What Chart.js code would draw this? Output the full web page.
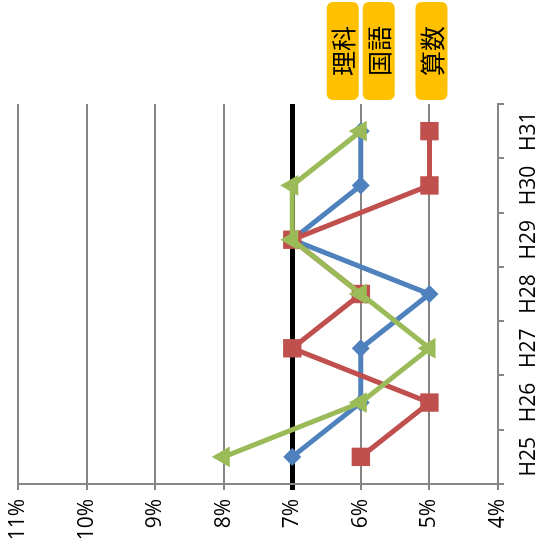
<!DOCTYPE html>
<html>
<head>
<meta charset="utf-8">
<script src="https://cdn.jsdelivr.net/npm/chart.js@4.4.1/dist/chart.umd.min.js"></script>
<style>
  body { margin: 0; background: #fff; }
  #wrap { position: relative; width: 541px; height: 558px; overflow: hidden; }
  #myChart { position: absolute; left: 0; top: 0; transform-origin: 0 0; transform: translate(0, 558px) rotate(-90deg); }
</style>
</head>
<body>
<div id="wrap"><canvas id="myChart" width="558" height="541"></canvas></div>
<script>
// the chart is drawn upright and the canvas is turned a quarter turn
const years = ['H25', 'H26', 'H27', 'H28', 'H29', 'H30', 'H31'];
const kokugo = [7.0, 6.0, 6.0, 5.0, 7.0, 6.0, 6.0];
const sansu = [6.0, 5.0, 7.0, 6.0, 7.0, 5.0, 5.0];
const rika = [8.0, 6.0, 5.0, 6.0, 7.0, 7.0, 6.0];
const refLine = 7;

const gridGray = '#868686';
// shift of each name tag from its last point (px)
const tagShift = [18, 2, -18];

const seriesTags = {
  id: 'seriesTags',
  afterDatasetsDraw(chart) {
    const ctx = chart.ctx;
    const area = chart.chartArea;
    const ys = chart.scales.y;
    chart.data.datasets.forEach((ds, i) => {
      const last = ds.data[ds.data.length - 1];
      const cy = ys.getPixelForValue(last) + tagShift[i];
      const x = area.right + 4, w = 98, h = 32;
      ctx.save();
      ctx.fillStyle = '#FFC000';
      ctx.beginPath();
      ctx.roundRect(x, cy - h / 2, w, h, 6);
      ctx.fill();
      ctx.fillStyle = '#000';
      ctx.font = '25px "Noto Sans CJK JP"';
      ctx.textAlign = 'center';
      ctx.textBaseline = 'middle';
      ctx.fillText(ds.label, x + w / 2, cy + 1);
      ctx.restore();
    });
  }
};

Chart.defaults.font.family = '"Open Sans", sans-serif';
Chart.defaults.color = '#000';

const ctx = document.getElementById('myChart');

new Chart(ctx, {
  type: 'line',
  data: {
    labels: years,
    datasets: [
      {
        label: '国語',
        data: kokugo,
        borderColor: '#4F81BD',
        backgroundColor: '#4F81BD',
        pointStyle: 'rectRot',
        pointRadius: 9,
        order: 3
      },
      {
        label: '算数',
        data: sansu,
        borderColor: '#C0504D',
        backgroundColor: '#C0504D',
        pointStyle: 'rect',
        pointRadius: 13,
        order: 2
      },
      {
        label: '理科',
        data: rika,
        borderColor: '#9BBB59',
        backgroundColor: '#9BBB59',
        pointStyle: 'triangle',
        pointRadius: 12,
        order: 1
      }
    ]
  },
  options: {
    responsive: false,
    animation: false,
    devicePixelRatio: 1,
    layout: { padding: { top: 18, right: 104, left: 0, bottom: 0 } },
    elements: {
      line: { borderWidth: 5, tension: 0 },
      point: { borderWidth: 0, hoverRadius: 9 }
    },
    scales: {
      x: {
        offset: true,
        grid: { offset: true, drawOnChartArea: false, color: gridGray, lineWidth: 2, tickLength: 6 },
        border: { color: gridGray, width: 2 },
        ticks: { font: { size: 21 }, padding: 12, maxRotation: 0 },
        afterFit: (scale) => { scale.height = 43; scale.paddingLeft = 0; scale.paddingRight = 0; }
      },
      y: {
        min: 4,
        max: 11,
        ticks: {
          stepSize: 1,
          font: { size: 21 },
          padding: 9,
          callback: (v) => v + '%'
        },
        grid: {
          color: (c) => c.tick && c.tick.value === refLine ? '#000' : gridGray,
          lineWidth: (c) => c.tick && c.tick.value === refLine ? 5 : 2,
          tickLength: 6
        },
        border: { color: gridGray, width: 2 },
        afterFit: (scale) => { scale.width = 74; scale.paddingTop = 0; scale.paddingBottom = 0; }
      }
    },
    plugins: {
      legend: { display: false },
      tooltip: { enabled: false }
    }
  },
  plugins: [seriesTags]
});
</script>
</body>
</html>
